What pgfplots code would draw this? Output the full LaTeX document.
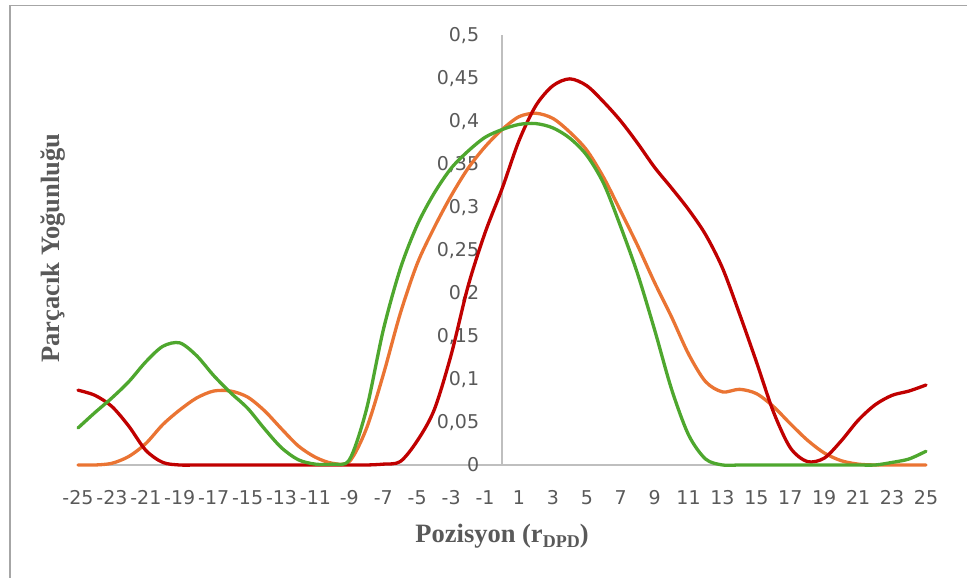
\documentclass[border=0pt]{standalone}
\usepackage{pgfplots}
\pgfplotsset{compat=1.18}
\usepackage{fontspec}
\setmainfont{DejaVu Sans}
\newfontfamily\serifb{Liberation Serif}
\definecolor{cred}{HTML}{C00000}
\definecolor{corange}{HTML}{EA7433}
\definecolor{cgreen}{HTML}{4EA72E}
\definecolor{tgray}{HTML}{595959}
\definecolor{agray}{HTML}{BFBFBF}
\definecolor{bgray}{HTML}{A6A6A6}
\begin{document}
\begin{tikzpicture}[x=1pt,y=1pt]
\path[use as bounding box] (0,0) rectangle (967,578);
\draw[bgray, line width=1.3pt] (10,0) -- (10,572.5) -- (967,572.5);
\begin{axis}[
 at={(78pt,113pt)}, anchor=south west,
 scale only axis, width=848pt, height=430pt,
 xmin=-25, xmax=25, ymin=0, ymax=0.5,
 enlargelimits=false,
 axis lines=middle,
 axis line style={-, draw=agray, line width=1.1pt},
 hide obscured x ticks=false, hide obscured y ticks=false,
 major tick length=0pt,
 xtick={-25,-23,...,25},
 xticklabels={-25,-23,-21,-19,-17,-15,-13,-11,-9,-7,-5,-3,-1,1,3,5,7,9,11,13,15,17,19,21,23,25},
 ytick={0,0.05,0.1,0.15,0.2,0.25,0.3,0.35,0.4,0.45,0.5},
 yticklabels={0,{0,05},{0,1},{0,15},{0,2},{0,25},{0,3},{0,35},{0,4},{0,45},{0,5}},
 ticklabel style={font=\fontsize{19}{22}\selectfont, text=tgray, inner sep=0pt},
 xticklabel style={anchor=north, yshift=-25pt},
 yticklabel style={anchor=base east, xshift=-22.7pt, yshift=-6.9pt},
 clip=false,
 every axis plot/.append style={line width=3.3pt, smooth, no markers, line join=round, line cap=round},
]
% orange
\addplot[corange] table {
x y
-25 0
-24 0
-23 0.002
-22 0.010
-21 0.025
-20 0.047
-19 0.064
-18 0.078
-17 0.086
-16 0.086
-15 0.079
-14 0.063
-13 0.042
-12 0.022
-11 0.009
-10 0.002
-9 0.004
-8 0.042
-7 0.105
-6 0.176
-5 0.234
-4 0.276
-3 0.313
-2 0.345
-1 0.370
0 0.390
1 0.405
2 0.409
3 0.403
4 0.387
5 0.366
6 0.334
7 0.295
8 0.255
9 0.212
10 0.172
11 0.129
12 0.097
13 0.085
14 0.088
15 0.083
16 0.068
17 0.048
18 0.029
19 0.014
20 0.005
21 0.001
22 0
23 0
24 0
25 0
};
% red
\addplot[cred] table {
x y
-25 0.087
-24 0.081
-23 0.068
-22 0.045
-21 0.017
-20 0.003
-19 0
-18 0
-17 0
-16 0
-15 0
-14 0
-13 0
-12 0
-11 0
-10 0
-9 0
-8 0
-7 0.001
-6 0.004
-5 0.028
-4 0.064
-3 0.128
-2 0.208
-1 0.270
0 0.321
1 0.377
2 0.418
3 0.441
4 0.449
5 0.441
6 0.422
7 0.400
8 0.374
9 0.346
10 0.322
11 0.297
12 0.268
13 0.229
14 0.176
15 0.120
16 0.062
17 0.020
18 0.004
19 0.008
20 0.028
21 0.052
22 0.070
23 0.081
24 0.086
25 0.093
};
% green
\addplot[cgreen] table {
x y
-25 0.043
-24 0.061
-23 0.078
-22 0.097
-21 0.120
-20 0.138
-19 0.142
-18 0.127
-17 0.104
-16 0.084
-15 0.066
-14 0.042
-13 0.020
-12 0.006
-11 0.001
-10 0.001
-9 0.006
-8 0.064
-7 0.157
-6 0.228
-5 0.279
-4 0.316
-3 0.345
-2 0.365
-1 0.381
0 0.390
1 0.396
2 0.397
3 0.392
4 0.380
5 0.360
6 0.327
7 0.277
8 0.222
9 0.157
10 0.088
11 0.035
12 0.007
13 0
14 0
15 0
16 0
17 0
18 0
19 0
20 0
21 0
22 0
23 0.003
24 0.007
25 0.016
};
\end{axis}
\node[anchor=base, text=tgray, font=\serifb\bfseries\fontsize{26.5}{30}\selectfont] at (502,35) {Pozisyon (r\raisebox{-5pt}{\fontsize{18}{18}\selectfont DPD})};
\node[rotate=90, anchor=base, text=tgray, font=\serifb\bfseries\fontsize{26.5}{30}\selectfont] at (59,330) {Parçacık Yoğunluğu};
\end{tikzpicture}
\end{document}
